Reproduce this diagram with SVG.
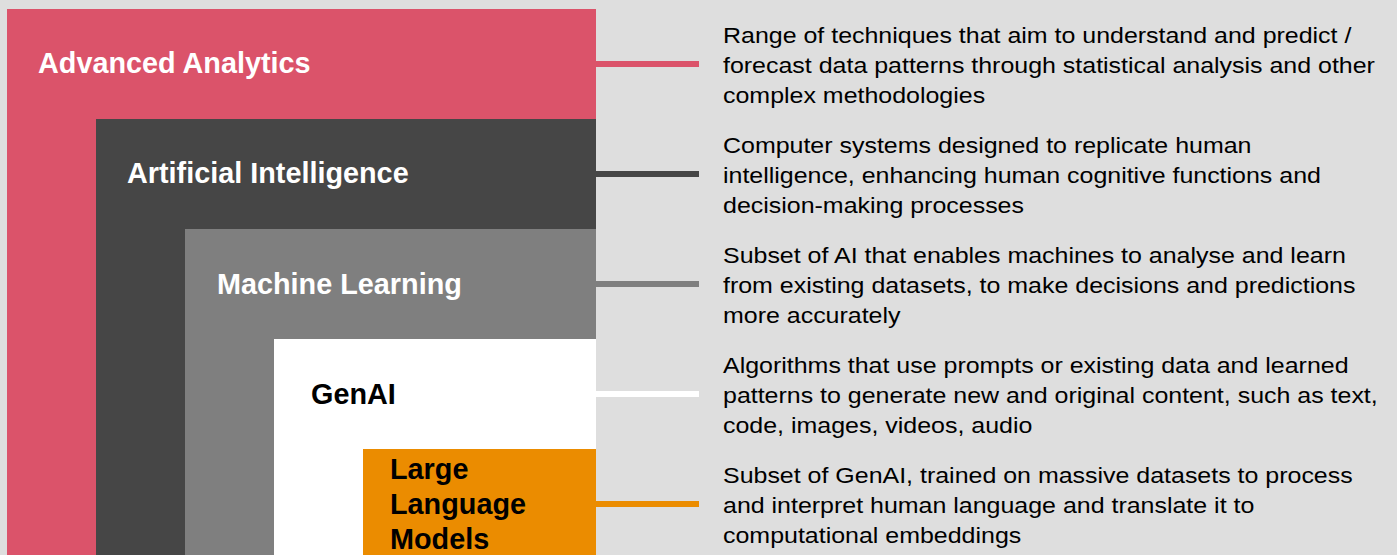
<svg xmlns="http://www.w3.org/2000/svg" width="1397" height="555" viewBox="0 0 1397 555">
  <style>
    .title { font-family: "Liberation Sans", Arial, sans-serif; font-weight: bold; font-size: 28.8px; fill: #ffffff; }
    .title.dark { fill: #000000; }
    .desc { font-family: "Liberation Sans", Arial, sans-serif; font-size: 22px; fill: #000000; }
    .link { stroke-width: 6; fill: none; }
  </style>
  <rect x="0" y="0" width="1397" height="555" fill="#dedede"/>

  <!-- nested layers -->
  <g id="advanced-analytics">
    <rect x="7" y="9" width="589" height="546" fill="#db536a"/>
    <text class="title" x="38" y="73">Advanced Analytics</text>
  </g>
  <g id="artificial-intelligence">
    <rect x="96" y="119" width="500" height="436" fill="#464646"/>
    <text class="title" x="127" y="183">Artificial Intelligence</text>
  </g>
  <g id="machine-learning">
    <rect x="185" y="229" width="411" height="326" fill="#7f7f7f"/>
    <text class="title" x="217" y="294">Machine Learning</text>
  </g>
  <g id="genai">
    <rect x="274" y="339" width="322" height="216" fill="#ffffff"/>
    <text class="title dark" x="311" y="404">GenAI</text>
  </g>
  <g id="llm">
    <rect x="363" y="449" width="233" height="106" fill="#eb8c00"/>
    <text class="title dark" x="390" y="479">Large</text>
    <text class="title dark" x="390" y="514">Language</text>
    <text class="title dark" x="390" y="549">Models</text>
  </g>

  <!-- connectors -->
  <g id="connectors">
    <line class="link" x1="596" y1="64" x2="699" y2="64" stroke="#db536a"/>
    <line class="link" x1="596" y1="174" x2="699" y2="174" stroke="#464646"/>
    <line class="link" x1="596" y1="284" x2="699" y2="284" stroke="#7f7f7f"/>
    <line class="link" x1="596" y1="394" x2="699" y2="394" stroke="#ffffff"/>
    <line class="link" x1="596" y1="504" x2="699" y2="504" stroke="#eb8c00"/>
  </g>

  <!-- descriptions (set slightly wide) -->
  <g id="desc-advanced-analytics" transform="translate(723 0) scale(1.135 1)">
    <text class="desc" x="0" y="43.2">Range of techniques that aim to understand and predict /</text>
    <text class="desc" x="0" y="72.9">forecast data patterns through statistical analysis and other</text>
    <text class="desc" x="0" y="102.6">complex methodologies</text>
  </g>
  <g id="desc-artificial-intelligence" transform="translate(723 110) scale(1.135 1)">
    <text class="desc" x="0" y="43.2">Computer systems designed to replicate human</text>
    <text class="desc" x="0" y="72.9">intelligence, enhancing human cognitive functions and</text>
    <text class="desc" x="0" y="102.6">decision-making processes</text>
  </g>
  <g id="desc-machine-learning" transform="translate(723 220) scale(1.135 1)">
    <text class="desc" x="0" y="43.2">Subset of AI that enables machines to analyse and learn</text>
    <text class="desc" x="0" y="72.9">from existing datasets, to make decisions and predictions</text>
    <text class="desc" x="0" y="102.6">more accurately</text>
  </g>
  <g id="desc-genai" transform="translate(723 330) scale(1.135 1)">
    <text class="desc" x="0" y="43.2">Algorithms that use prompts or existing data and learned</text>
    <text class="desc" x="0" y="72.9">patterns to generate new and original content, such as text,</text>
    <text class="desc" x="0" y="102.6">code, images, videos, audio</text>
  </g>
  <g id="desc-llm" transform="translate(723 440) scale(1.135 1)">
    <text class="desc" x="0" y="43.2">Subset of GenAI, trained on massive datasets to process</text>
    <text class="desc" x="0" y="72.9">and interpret human language and translate it to</text>
    <text class="desc" x="0" y="102.6">computational embeddings</text>
  </g>
</svg>
